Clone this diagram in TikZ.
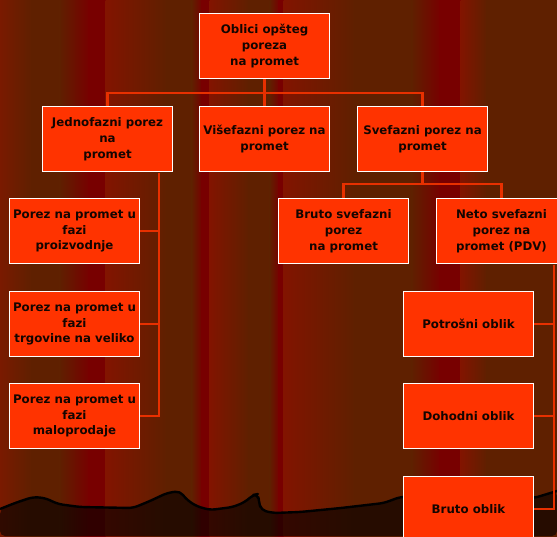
\documentclass[tikz,border=0pt]{standalone}
\usepackage{fontspec}
\setmainfont{DejaVu Sans}
\definecolor{bgb}{HTML}{5F2000}
\definecolor{dred}{HTML}{780000}
\definecolor{ored}{HTML}{821400}
\definecolor{redA}{HTML}{7A1A00}
\definecolor{boxred}{HTML}{FF3300}
\definecolor{linered}{HTML}{E83000}
\definecolor{txt}{HTML}{140500}
\begin{document}
\begin{tikzpicture}[x=1pt,y=-1pt,
  box/.style={draw=white, line width=1.4pt, fill=boxred, minimum width=129.6pt, minimum height=64.6pt,
    inner sep=0.5pt, align=center, text=txt, font=\fontsize{11.8}{15.8}\selectfont\bfseries},
  conn/.style={draw=linered, line width=2.2pt}]
\useasboundingbox (0,0) rectangle (557,536);
\clip (0,0) rectangle (557,536);
% background stripes
\foreach \xa/\xb/\ca/\cb in {0/32/redA/bgb, 32/60/bgb/bgb, 60/89/bgb/dred, 89/106/dred/dred,
  106/167/ored/bgb, 167/192/bgb/bgb, 192/202/bgb/dred, 202/210/dred/dred, 210/249/ored/bgb,
  249/270/bgb/bgb, 270/279/bgb/dred, 279/284/dred/dred, 284/355/ored/bgb, 355/412/bgb/bgb,
  412/440/bgb/dred, 440/461/dred/dred, 461/487/ored/bgb, 487/557/bgb/bgb}
  \shade[left color=\ca, right color=\cb] (\xa-0.4,0) rectangle (\xb+0.4,536);
% landscape silhouette
\fill[black, fill opacity=0.6, rounded corners=5pt] (0,509) -- (15,503) -- (33,497) -- (45,498) -- (58,504) -- (80,507)
  -- (133,508) -- (150,501) -- (167,493) -- (180,491) -- (186,499) -- (196,506) -- (210,510) -- (233,507)
  -- (245,502) -- (253,495) -- (258,494) -- (259,502) -- (261,510) -- (273,513) -- (300,512) -- (341,508)
  -- (384,503) -- (400,497) -- (470,494) -- (534,498) -- (557,491) -- (557,536) -- (0,536) -- cycle;
\draw[black, line width=2.4pt, line join=round, rounded corners=5pt] (0,509) -- (15,503) -- (33,497) -- (45,498) -- (58,504) -- (80,507)
  -- (133,508) -- (150,501) -- (167,493) -- (180,491) -- (186,499) -- (196,506) -- (210,510) -- (233,507)
  -- (245,502) -- (253,495) -- (258,494) -- (259,502) -- (261,510) -- (273,513) -- (300,512) -- (341,508)
  -- (384,503) -- (400,497) -- (470,494) -- (534,498) -- (557,491);
% boxes
\node[box] (top) at (264.5,46) {Oblici opšteg\\poreza\\na promet};
\node[box] (jedno) at (107.5,139) {Jednofazni porez\\na\\promet};
\node[box] (vise) at (264.5,139) {Višefazni porez na\\promet};
\node[box] (sve) at (422.5,139) {Svefazni porez na\\promet};
\node[box] (proiz) at (74.5,231) {Porez na promet u\\fazi\\proizvodnje};
\node[box] (trg) at (74.5,324) {Porez na promet u\\fazi\\trgovine na veliko};
\node[box] (malo) at (74.5,416) {Porez na promet u\\fazi\\maloprodaje};
\node[box] (bruto) at (343.5,231) {Bruto svefazni\\porez\\na promet};
\node[box] (neto) at (501.5,231) {Neto svefazni\\porez na\\promet (PDV)};
\node[box] (potr) at (468.5,324) {Potrošni oblik};
\node[box] (doh) at (468.5,416) {Dohodni oblik};
\node[box] (brob) at (468.5,509) {Bruto oblik};
% connectors
\coordinate (j1) at (264.5,93);
\coordinate (jl) at (159,172.7);
\coordinate (j2) at (422.5,184);
\coordinate (nl) at (554,264.7);
\draw[conn] (jedno.north) |- (j1) -| (sve.north);
\draw[conn] (top.south) -- (vise.north);
\draw[conn] (jl) |- (malo.east);
\draw[conn] (proiz.east) -- (proiz.east -| jl);
\draw[conn] (trg.east) -- (trg.east -| jl);
\draw[conn] (bruto.north) |- (j2) -| (neto.north);
\draw[conn] (sve.south) -- (j2);
\draw[conn] (nl) |- (brob.east);
\draw[conn] (potr.east) -- (potr.east -| nl);
\draw[conn] (doh.east) -- (doh.east -| nl);
\end{tikzpicture}
\end{document}
